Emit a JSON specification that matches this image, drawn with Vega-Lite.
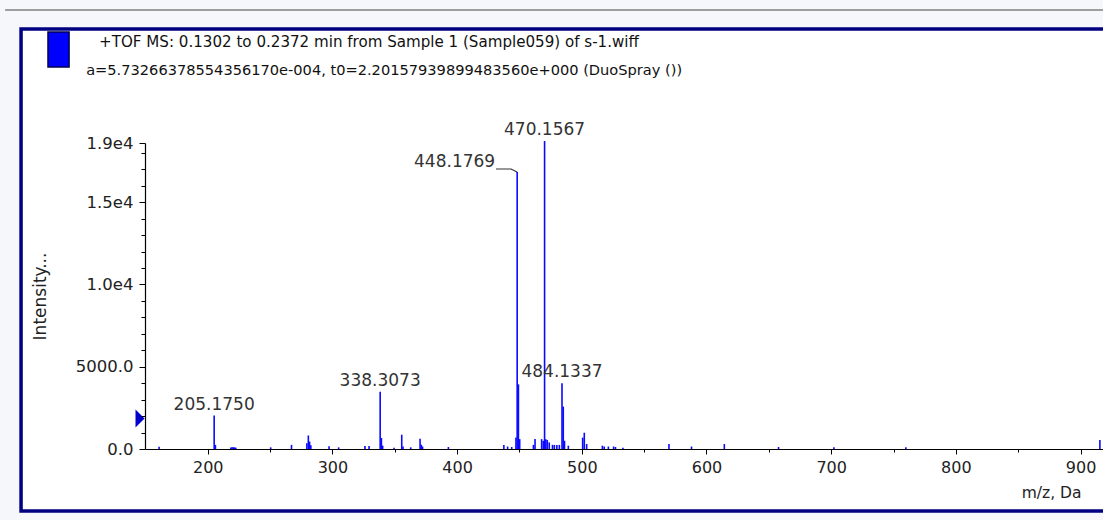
{
  "$schema": "https://vega.github.io/schema/vega-lite/v6.json",
  "autosize": {"type": "none"},
  "width": 958,
  "height": 306,
  "padding": {"left": 145, "top": 143, "right": 0, "bottom": 71},
  "background": "#f5f7fa",
  "config": {
    "font": "DejaVu Sans",
    "view": {"stroke": null},
    "axis": {"grid": false}
  },
  "datasets": {
    "peaks": [
      {"mz": 161.0, "intensity": 130, "label": ""},
      {"mz": 205.175, "intensity": 2030, "label": "205.1750"},
      {"mz": 206.18, "intensity": 250, "label": ""},
      {"mz": 218.5, "intensity": 90, "label": ""},
      {"mz": 219.5, "intensity": 100, "label": ""},
      {"mz": 220.5, "intensity": 110, "label": ""},
      {"mz": 221.5, "intensity": 100, "label": ""},
      {"mz": 222.5, "intensity": 80, "label": ""},
      {"mz": 250.5, "intensity": 100, "label": ""},
      {"mz": 267.2, "intensity": 250, "label": ""},
      {"mz": 279.5, "intensity": 350, "label": ""},
      {"mz": 280.7, "intensity": 820, "label": ""},
      {"mz": 281.7, "intensity": 450, "label": ""},
      {"mz": 282.7, "intensity": 230, "label": ""},
      {"mz": 297.3, "intensity": 160, "label": ""},
      {"mz": 305.0, "intensity": 100, "label": ""},
      {"mz": 326.1, "intensity": 180, "label": ""},
      {"mz": 329.4, "intensity": 180, "label": ""},
      {"mz": 338.3073, "intensity": 3480, "label": "338.3073"},
      {"mz": 339.3, "intensity": 670, "label": ""},
      {"mz": 340.3, "intensity": 200, "label": ""},
      {"mz": 349.4, "intensity": 80, "label": ""},
      {"mz": 355.6, "intensity": 870, "label": ""},
      {"mz": 356.6, "intensity": 150, "label": ""},
      {"mz": 362.8, "intensity": 100, "label": ""},
      {"mz": 370.3, "intensity": 630, "label": ""},
      {"mz": 371.3, "intensity": 260, "label": ""},
      {"mz": 372.3, "intensity": 150, "label": ""},
      {"mz": 393.0, "intensity": 120, "label": ""},
      {"mz": 437.5, "intensity": 240, "label": ""},
      {"mz": 440.5, "intensity": 150, "label": ""},
      {"mz": 443.8, "intensity": 120, "label": ""},
      {"mz": 447.2, "intensity": 700, "label": ""},
      {"mz": 448.1769, "intensity": 16840, "label": ""},
      {"mz": 449.18, "intensity": 3930, "label": ""},
      {"mz": 450.2, "intensity": 600, "label": ""},
      {"mz": 461.2, "intensity": 250, "label": ""},
      {"mz": 462.5, "intensity": 610, "label": ""},
      {"mz": 467.8, "intensity": 600, "label": ""},
      {"mz": 469.1, "intensity": 500, "label": ""},
      {"mz": 470.1567, "intensity": 18720, "label": "470.1567"},
      {"mz": 471.16, "intensity": 600, "label": ""},
      {"mz": 472.3, "intensity": 550, "label": ""},
      {"mz": 473.9, "intensity": 400, "label": ""},
      {"mz": 476.5, "intensity": 250, "label": ""},
      {"mz": 478.0, "intensity": 250, "label": ""},
      {"mz": 480.0, "intensity": 250, "label": ""},
      {"mz": 482.0, "intensity": 250, "label": ""},
      {"mz": 484.1337, "intensity": 3990, "label": "484.1337"},
      {"mz": 485.14, "intensity": 2580, "label": ""},
      {"mz": 486.14, "intensity": 500, "label": ""},
      {"mz": 489.2, "intensity": 200, "label": ""},
      {"mz": 500.7, "intensity": 690, "label": ""},
      {"mz": 502.0, "intensity": 990, "label": ""},
      {"mz": 503.9, "intensity": 300, "label": ""},
      {"mz": 516.5, "intensity": 200, "label": ""},
      {"mz": 518.0, "intensity": 150, "label": ""},
      {"mz": 521.3, "intensity": 150, "label": ""},
      {"mz": 525.5, "intensity": 150, "label": ""},
      {"mz": 527.0, "intensity": 120, "label": ""},
      {"mz": 533.0, "intensity": 80, "label": ""},
      {"mz": 569.9, "intensity": 300, "label": ""},
      {"mz": 588.0, "intensity": 150, "label": ""},
      {"mz": 614.3, "intensity": 300, "label": ""},
      {"mz": 657.8, "intensity": 120, "label": ""},
      {"mz": 702.2, "intensity": 100, "label": ""},
      {"mz": 759.9, "intensity": 100, "label": ""},
      {"mz": 915.5, "intensity": 550, "label": ""}
    ],
    "leader": [
      {"mz": 431.2, "intensity": 17020, "o": 1},
      {"mz": 443.2, "intensity": 17020, "o": 2},
      {"mz": 448.1769, "intensity": 16840, "o": 3}
    ],
    "callout": [
      {"mz": 448.1769, "intensity": 16840, "label": "448.1769"}
    ],
    "one": [{}]
  },
  "resolve": {"axis": {"x": "independent", "y": "independent"}},
  "layer": [
    {
      "data": {"name": "one"},
      "mark": {"type": "rect", "fill": "#ffffff", "stroke": "#000080", "strokeWidth": 3.5},
      "encoding": {
        "x": {"datum": 50.3, "type": "quantitative",
          "scale": {"domain": [149.7, 918], "nice": false, "zero": false},
          "axis": {"orient": "bottom", "zindex": 2, "values": [250, 350, 450, 550, 650, 750, 850], "labels": false, "domain": false, "tickSize": 3, "tickColor": "#000000", "title": null}},
        "x2": {"datum": 1000},
        "y": {"datum": -3769, "type": "quantitative",
          "scale": {"domain": [0, 18600], "nice": false, "zero": false},
          "axis": {"orient": "left", "zindex": 2, "values": [1000, 2000, 3000, 4000, 6000, 7000, 8000, 9000, 11000, 12000, 13000, 14000, 16000, 17000, 18000], "labels": false, "domain": false, "tickSize": 4, "tickColor": "#000000", "title": null}},
        "y2": {"datum": 25529}
      }
    },
    {
      "data": {"name": "one"},
      "mark": {"type": "rule", "color": "#808080", "strokeWidth": 1.5},
      "encoding": {
        "x": {"datum": 37.5, "type": "quantitative", "axis": null},
        "x2": {"datum": 1000},
        "y": {"datum": 26684, "type": "quantitative", "axis": null}
      }
    },
    {
      "data": {"name": "one"},
      "mark": {"type": "rect", "fill": "#0000ff", "stroke": "#000050", "strokeWidth": 1.5},
      "encoding": {
        "x": {"datum": 71.9, "type": "quantitative", "axis": null},
        "x2": {"datum": 88.8},
        "y": {"datum": 23219, "type": "quantitative", "axis": null},
        "y2": {"datum": 25346}
      }
    },
    {
      "data": {"name": "one"},
      "mark": {"type": "text", "align": "left", "baseline": "alphabetic", "fontSize": 15.1, "color": "#111111", "text": "+TOF MS: 0.1302 to 0.2372 min from Sample 1 (Sample059) of s-1.wiff"},
      "encoding": {
        "x": {"datum": 112.9, "type": "quantitative", "axis": null},
        "y": {"datum": 24435, "type": "quantitative", "axis": null}
      }
    },
    {
      "data": {"name": "one"},
      "mark": {"type": "text", "align": "left", "baseline": "alphabetic", "fontSize": 14.6, "color": "#111111", "text": "a=5.73266378554356170e-004, t0=2.20157939899483560e+000 (DuoSpray ())"},
      "encoding": {
        "x": {"datum": 102.5, "type": "quantitative", "axis": null},
        "y": {"datum": 22733, "type": "quantitative", "axis": null}
      }
    },
    {
      "data": {"name": "peaks"},
      "mark": {"type": "rule", "color": "#0a0aff", "strokeWidth": 1.6},
      "encoding": {
        "x": {"field": "mz", "type": "quantitative",
          "scale": {"domain": [149.7, 918], "nice": false, "zero": false},
          "axis": {"orient": "bottom", "zindex": 2, "values": [200, 300, 400, 500, 600, 700, 800, 900], "tickSize": 5, "tickColor": "#000000", "domainColor": "#000000", "domainWidth": 1.2, "labelFontSize": 16, "labelColor": "#222222", "labelPadding": 5, "labelFlush": false,
            "title": "m/z, Da", "titleFontSize": 15.5, "titleFontWeight": "normal", "titleColor": "#222222", "titleX": 936, "titleY": 48, "titleAlign": "right", "titleBaseline": "alphabetic"}},
        "y": {"field": "intensity", "type": "quantitative",
          "scale": {"domain": [0, 18600], "nice": false, "zero": false},
          "axis": {"orient": "left", "zindex": 2, "values": [0, 5000, 10000, 15000, 18600], "labelExpr": "datum.value == 0 ? '0.0' : datum.value == 5000 ? '5000.0' : datum.value == 10000 ? '1.0e4' : datum.value == 15000 ? '1.5e4' : '1.9e4'", "tickSize": 6, "tickColor": "#000000", "domainColor": "#000000", "domainWidth": 1.2, "labelFontSize": 16.5, "labelColor": "#222222", "labelPadding": 6, "labelFlush": false,
            "title": "Intensity...", "titleFontSize": 17, "titleFontWeight": "normal", "titleColor": "#222222", "titleAngle": -90, "titleX": -105, "titleY": 153, "titleAlign": "center", "titleBaseline": "middle"}},
        "y2": {"datum": 0}
      }
    },
    {
      "data": {"name": "peaks"},
      "transform": [{"filter": "datum.label != ''"}],
      "mark": {"type": "text", "align": "center", "baseline": "alphabetic", "dy": -6, "fontSize": 17, "color": "#333333"},
      "encoding": {
        "x": {"field": "mz", "type": "quantitative", "axis": null},
        "y": {"field": "intensity", "type": "quantitative", "axis": null},
        "text": {"field": "label"}
      }
    },
    {
      "data": {"name": "callout"},
      "mark": {"type": "text", "align": "right", "baseline": "alphabetic", "dx": -22, "dy": -5, "fontSize": 17, "color": "#333333"},
      "encoding": {
        "x": {"field": "mz", "type": "quantitative", "axis": null},
        "y": {"field": "intensity", "type": "quantitative", "axis": null},
        "text": {"field": "label"}
      }
    },
    {
      "data": {"name": "leader"},
      "mark": {"type": "line", "color": "#333333", "strokeWidth": 1.2},
      "encoding": {
        "x": {"field": "mz", "type": "quantitative", "axis": null},
        "y": {"field": "intensity", "type": "quantitative", "axis": null},
        "order": {"field": "o"}
      }
    },
    {
      "data": {"name": "one"},
      "mark": {"type": "point", "shape": "M -0.5 -1 L 0.5 0 L -0.5 1 Z", "filled": true, "color": "#0000cc", "size": 324, "opacity": 1},
      "encoding": {
        "x": {"datum": 145.7, "type": "quantitative", "axis": null},
        "y": {"datum": 1850, "type": "quantitative", "axis": null}
      }
    }
  ]
}
